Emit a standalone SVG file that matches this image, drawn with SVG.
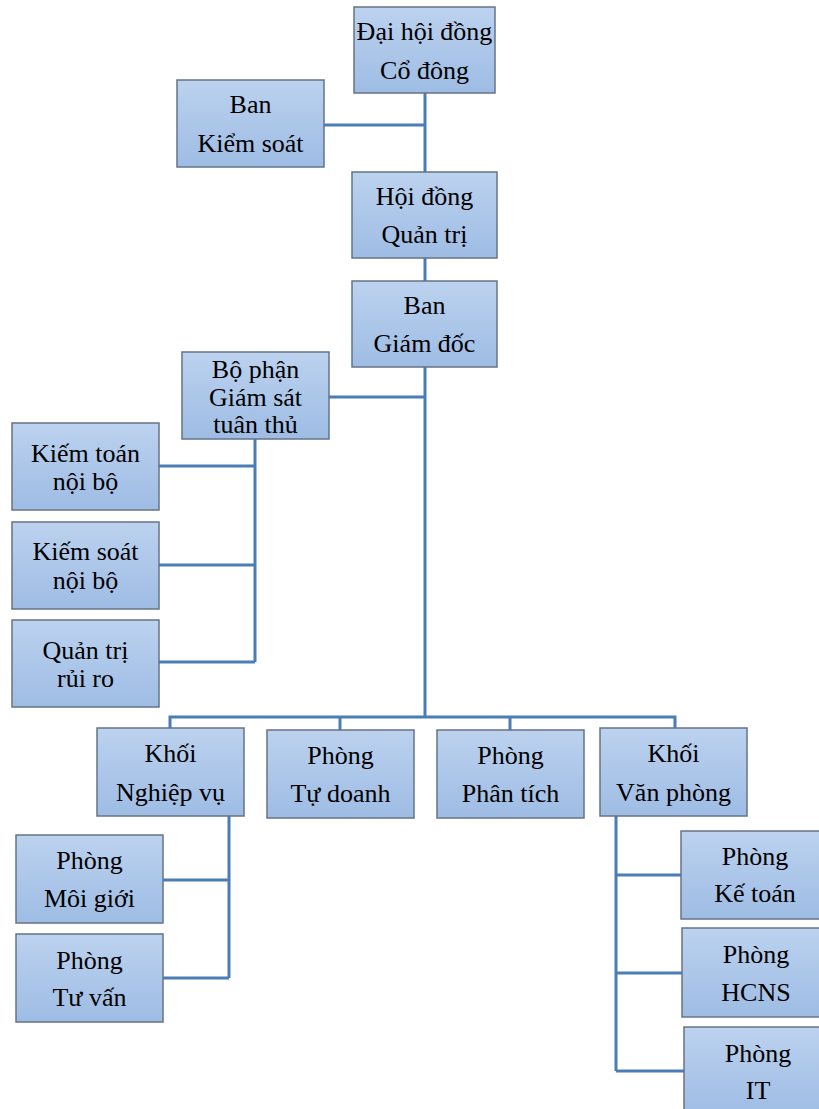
<svg xmlns="http://www.w3.org/2000/svg" width="819" height="1109" viewBox="0 0 819 1109">
<defs>
<linearGradient id="g" x1="0" y1="0" x2="0" y2="1">
<stop offset="0" stop-color="#bcd2ef"/>
<stop offset="1" stop-color="#9ebce4"/>
</linearGradient>
<style>
.b{fill:url(#g);stroke:#647487;stroke-width:1.5}
.t{font-family:"Liberation Serif","Times New Roman",serif;font-size:26px;fill:#000;text-anchor:middle}
.c{stroke:#4a7db5;stroke-width:3;fill:none}
</style>
</defs>
<rect width="819" height="1109" fill="#fff"/>
<g id="connectors">
<path class="c" d="M425 93V172M324 125H425M425 258V281M425 367V717M329 397H425"/>
<path class="c" d="M255 439V662M159 466H255M159 565H255M159 662H255"/>
<path class="c" d="M170 728V717H675V728M340 717V730M510 717V730"/>
<path class="c" d="M229 816V978M163 880H229M163 978H229"/>
<path class="c" d="M616 816V1071M616 875H681M616 973H682M616 1071H684"/>
</g>
<g id="dhdcd"><rect class="b" x="354" y="7" width="141" height="86"/><text class="t" x="424.5" y="40">Đại hội đồng</text><text class="t" x="424.5" y="79">Cổ đông</text></g>
<g id="bks"><rect class="b" x="177" y="80" width="147" height="87"/><text class="t" x="250.5" y="113">Ban</text><text class="t" x="250.5" y="152">Kiểm soát</text></g>
<g id="hdqt"><rect class="b" x="352" y="172" width="145" height="86"/><text class="t" x="424.5" y="205">Hội đồng</text><text class="t" x="424.5" y="243">Quản trị</text></g>
<g id="bgd"><rect class="b" x="352" y="281" width="145" height="86"/><text class="t" x="424.5" y="314">Ban</text><text class="t" x="424.5" y="352">Giám đốc</text></g>
<g id="bpgs"><rect class="b" x="182" y="352" width="147" height="87"/><text class="t" x="255.5" y="378">Bộ phận</text><text class="t" x="255.5" y="406">Giám sát</text><text class="t" x="255.5" y="433">tuân thủ</text></g>
<g id="ktnb"><rect class="b" x="12" y="423" width="147" height="87"/><text class="t" x="85.5" y="462">Kiếm toán</text><text class="t" x="85.5" y="490">nội bộ</text></g>
<g id="ksnb"><rect class="b" x="12" y="522" width="147" height="87"/><text class="t" x="85.5" y="560">Kiếm soát</text><text class="t" x="85.5" y="589">nội bộ</text></g>
<g id="qtrr"><rect class="b" x="12" y="620" width="147" height="87"/><text class="t" x="85.5" y="659">Quản trị</text><text class="t" x="85.5" y="687">rủi ro</text></g>
<g id="knv"><rect class="b" x="97" y="728" width="147" height="88"/><text class="t" x="170.5" y="762">Khối</text><text class="t" x="170.5" y="801">Nghiệp vụ</text></g>
<g id="ptd"><rect class="b" x="267" y="730" width="147" height="88"/><text class="t" x="340.5" y="764">Phòng</text><text class="t" x="340.5" y="802">Tự doanh</text></g>
<g id="ppt"><rect class="b" x="437" y="730" width="147" height="88"/><text class="t" x="510.5" y="764">Phòng</text><text class="t" x="510.5" y="802">Phân tích</text></g>
<g id="kvp"><rect class="b" x="600" y="728" width="147" height="88"/><text class="t" x="673.5" y="762">Khối</text><text class="t" x="673.5" y="801">Văn phòng</text></g>
<g id="pmg"><rect class="b" x="16" y="835" width="147" height="88"/><text class="t" x="89.5" y="869">Phòng</text><text class="t" x="89.5" y="907">Môi giới</text></g>
<g id="ptv"><rect class="b" x="16" y="934" width="147" height="88"/><text class="t" x="89.5" y="969">Phòng</text><text class="t" x="89.5" y="1006">Tư vấn</text></g>
<g id="pkt"><rect class="b" x="681" y="831" width="148" height="88"/><text class="t" x="755" y="865">Phòng</text><text class="t" x="755" y="902">Kế toán</text></g>
<g id="phcns"><rect class="b" x="682" y="928" width="148" height="89"/><text class="t" x="756" y="963">Phòng</text><text class="t" x="756" y="1001">HCNS</text></g>
<g id="pit"><rect class="b" x="684" y="1027" width="148" height="89"/><text class="t" x="758" y="1062">Phòng</text><text class="t" x="758" y="1099">IT</text></g>
</svg>
